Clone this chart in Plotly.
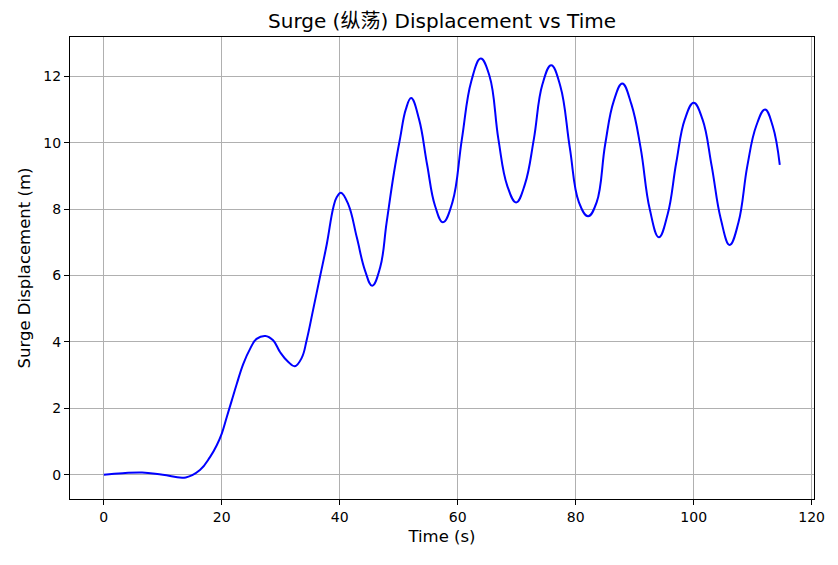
import plotly.graph_objects as go

# surge displacement samples (time in s, displacement in m)
time_s = [0, 3.2, 6.5, 10, 13.9, 16.3, 18.0, 19.15, 20.0, 20.85, 21.7, 22.55, 23.65,
          24.8, 25.9, 27.4, 28.7, 29.9, 31.2, 32.4, 33.55, 34.4, 35.5, 36.65, 37.8,
          38.9, 39.5, 40.2, 41.45, 42.9, 44.3, 45.5, 46.85, 47.95, 49.2, 50.25, 51.2,
          52.1, 53.45, 54.8, 56.15, 57.5, 59.1, 60.7, 62.3, 63.9,
          65.4, 66.9, 68.4, 69.9, 71.4, 72.9, 74.35, 75.85,
          77.4, 79.0, 80.55, 82.1, 83.55, 85.0, 86.45, 87.9,
          89.45, 91.0, 92.55, 94.1, 95.6, 97.05, 98.5, 100.0,
          101.5, 103.05, 104.6, 106.1, 107.6, 109.1, 110.6, 112.1, 113.4, 114.6]
surge_m = [0, 0.045, 0.07, 0.0, -0.08, 0.14, 0.53, 0.89, 1.24, 1.74, 2.24, 2.74, 3.34,
           3.79, 4.09, 4.18, 4.05, 3.69, 3.41, 3.27, 3.52, 4.06, 4.98, 5.96, 6.94,
           8.04, 8.36, 8.49, 8.14, 7.14, 6.14, 5.69, 6.24, 7.6, 9.1, 10.15, 11.0,
           11.34, 10.7, 9.35, 8.1, 7.6, 8.2, 10.1, 11.85, 12.53,
           12.0, 10.1, 8.7, 8.2, 8.75, 10.1, 11.75, 12.33,
           11.7, 9.85, 8.2, 7.78, 8.2, 9.95, 11.25, 11.78,
           11.15, 9.85, 8.0, 7.15, 7.85, 9.4, 10.7, 11.2,
           10.7, 9.3, 7.7, 6.92, 7.6, 9.3, 10.5, 11.0, 10.5, 9.33]

x_ticks = [0, 20, 40, 60, 80, 100, 120]
y_ticks = [0, 2, 4, 6, 8, 10, 12]

fig = go.Figure(go.Scatter(
    x=time_s, y=surge_m, mode='lines',
    line=dict(color='blue', width=2, shape='spline', smoothing=1.2),
))

axis_style = dict(
    showline=True, linecolor='black', linewidth=1, mirror=True,
    ticks='outside', ticklen=5, tickcolor='black', tickwidth=1,
    showgrid=True, gridcolor='#b0b0b0', gridwidth=1, zeroline=False,
    tickfont=dict(size=14, color='black'), automargin=False,
)

# page body adds ~8px offset, so the figure is a bit smaller than the window
fig.update_layout(
    width=830, height=557,
    margin=dict(l=62, r=24, t=29, b=66),
    plot_bgcolor='white', paper_bgcolor='white',
    font=dict(family='DejaVu Sans, Noto Sans CJK SC', color='black'),
    showlegend=False,
    title=dict(text='Surge (纵荡) Displacement vs Time', x=0.5, xref='paper',
               y=1, yref='paper', yanchor='bottom', pad=dict(b=9),
               font=dict(size=20, color='black')),
    xaxis=dict(axis_style, range=[-5.73, 120.4], tickvals=x_ticks,
               title=dict(text='Time (s)', font=dict(size=16.5), standoff=6)),
    yaxis=dict(axis_style, range=[-0.73, 13.18], tickvals=y_ticks,
               title=dict(text='Surge Displacement (m)', font=dict(size=16.5), standoff=8)),
)

fig.write_html("out.html")
